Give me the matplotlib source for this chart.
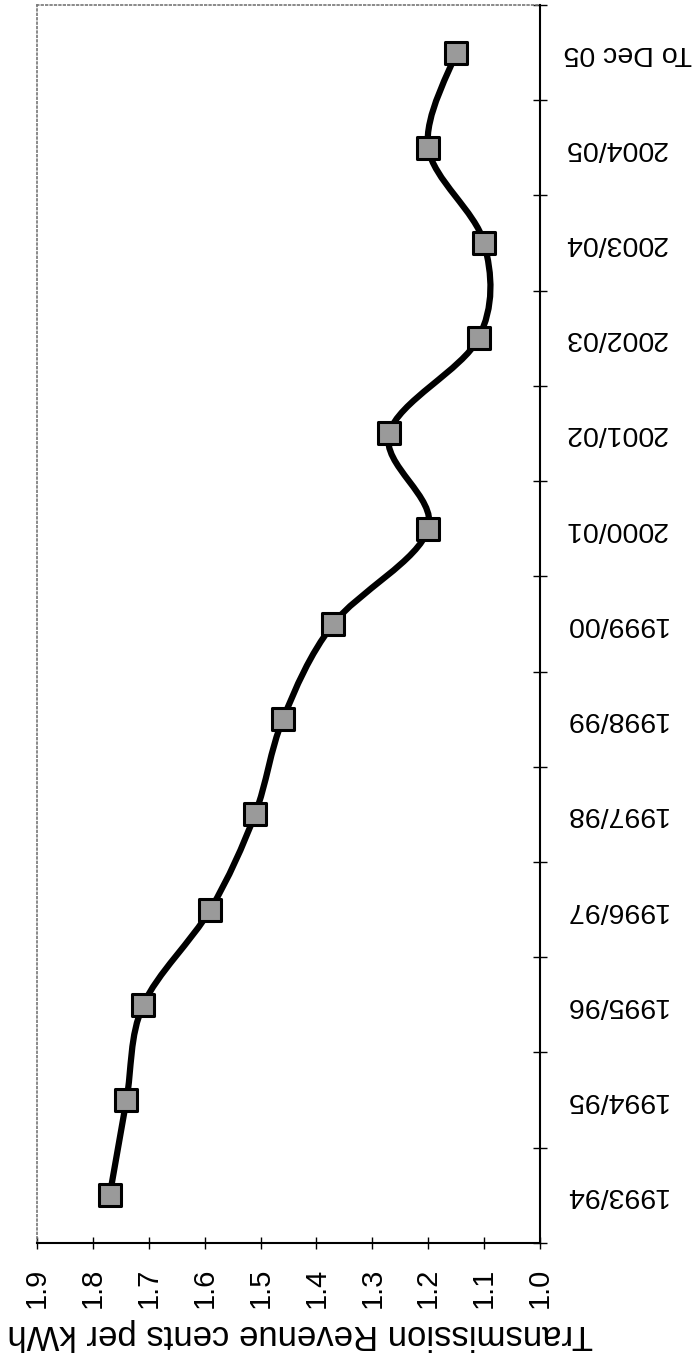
"""Transmission revenue (cents per kWh) by year, drawn rotated like the scan."""
import numpy as np
import matplotlib
matplotlib.use('Agg')
import matplotlib.pyplot as plt
from matplotlib.path import Path
from matplotlib.patches import PathPatch

plt.rcParams['font.family'] = ['Liberation Sans', 'DejaVu Sans']

years = ['1993/94', '1994/95', '1995/96', '1996/97', '1997/98', '1998/99',
         '1999/00', '2000/01', '2001/02', '2002/03', '2003/04', '2004/05',
         'To Dec 05']
cents = [1.77, 1.74, 1.71, 1.59, 1.51, 1.46, 1.37, 1.20, 1.27, 1.11, 1.10,
         1.20, 1.15]
value_ticks = [1.9, 1.8, 1.7, 1.6, 1.5, 1.4, 1.3, 1.2, 1.1, 1.0]
axis_label = 'Transmission Revenue cents per kWh'


def smooth_path(ax, xs, ys):
    # Excel-style smoothed line: cubic bezier segments, tangents from
    # neighbouring points, worked out in display space.
    pts = ax.transData.transform(np.column_stack([xs, ys]))
    n = len(pts)
    verts = [pts[0]]
    codes = [Path.MOVETO]
    for i in range(n - 1):
        p0 = pts[max(i - 1, 0)]
        p1 = pts[i]
        p2 = pts[i + 1]
        p3 = pts[min(i + 2, n - 1)]
        c1 = p1 + (p2 - p0) / 6.0
        c2 = p2 - (p3 - p1) / 6.0
        verts += [c1, c2, p2]
        codes += [Path.CURVE4] * 3
    verts = ax.transData.inverted().transform(np.array(verts))
    return Path(verts, codes)


fig = plt.figure(figsize=(6.99, 13.62), dpi=100)
ax = fig.add_axes([0.053, 0.0874, 0.7195, 0.909])

pos = np.arange(len(years))
ax.set_xlim(1.9, 1.0)
ax.set_ylim(-0.5, len(years) - 0.5)

path = smooth_path(ax, cents, pos)
ax.add_patch(PathPatch(path, facecolor='none', edgecolor='black',
                       lw=4.5, zorder=3, capstyle='round'))
ax.scatter(cents, pos, marker='s', s=260, facecolor='#9a9a9a',
           edgecolor='black', linewidth=2.2, zorder=4)

# value axis (bottom)
ax.set_xticks(value_ticks)
ax.set_xticklabels([f'{v:.1f}' for v in value_ticks], rotation=90,
                   fontsize=21)
ax.tick_params(axis='x', direction='inout', length=8, width=1, pad=14)
ax.set_xlabel(axis_label, fontsize=25, rotation=180, labelpad=7)
ax.xaxis.label.set_x(0.524)

# category axis (right)
ax.yaxis.tick_right()
ax.set_yticks(np.arange(-0.5, len(years), 1.0))
ax.set_yticklabels([])
ax.set_yticks(pos, minor=True)
ax.set_yticklabels(years, minor=True, rotation=180, fontsize=20.5,
                   ha='left', va='center')
ax.tick_params(axis='y', which='major', direction='inout', length=10,
               width=1, right=True, left=False)
ax.tick_params(axis='y', which='minor', length=0, pad=17, right=True,
               left=False)

for side in ('left', 'top'):
    ax.spines[side].set_linestyle(':')
    ax.spines[side].set_color('#777777')
    ax.spines[side].set_linewidth(1.2)
for side in ('right', 'bottom'):
    ax.spines[side].set_color('black')
    ax.spines[side].set_linewidth(1.5)

fig.savefig('out.png', dpi=100, facecolor='white')
